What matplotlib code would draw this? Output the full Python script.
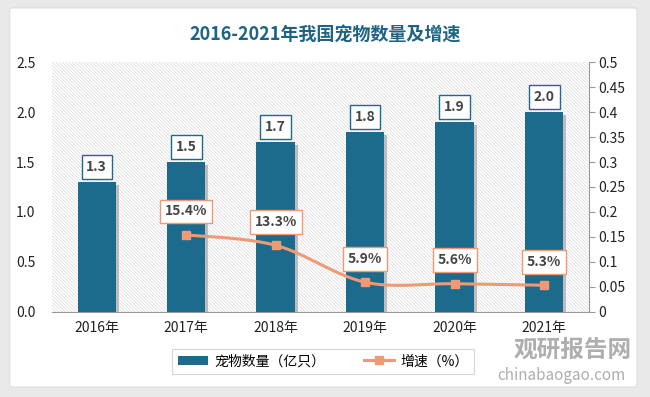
import matplotlib.pyplot as plt
import numpy as np
from matplotlib.patches import FancyBboxPatch
import matplotlib.patheffects as pe

plt.rcParams['font.family'] = ['Noto Sans CJK SC', 'DejaVu Sans']
plt.rcParams['hatch.color'] = '#d9d9d9'
plt.rcParams['hatch.linewidth'] = 0.5

years = ['2016年', '2017年', '2018年', '2019年', '2020年', '2021年']
pets = [1.3, 1.5, 1.7, 1.8, 1.9, 2.0]
growth_years = [1, 2, 3, 4, 5]
growth = [0.154, 0.133, 0.059, 0.056, 0.053]
growth_labels = ['15.4%', '13.3%', '5.9%', '5.6%', '5.3%']

teal = '#1c6a8c'
salmon = '#ef9a74'

fig = plt.figure(figsize=(6.5, 3.97), dpi=100, facecolor='#e9e9e9')
# white card behind everything
card = FancyBboxPatch((0.015, 0.025), 0.965, 0.955, boxstyle='round,pad=0,rounding_size=0.005',
                      transform=fig.transFigure, facecolor='white', edgecolor='#dddddd', lw=0.8, zorder=-10)
fig.patches.append(card)

ax = fig.add_axes([0.08, 0.215, 0.826, 0.628])
ax.set_zorder(1)
ax.set_facecolor('white')
ax.patch.set_hatch('\\' * 10)
ax.patch.set_edgecolor('#d9d9d9')
ax.patch.set_linewidth(0)

x = np.arange(len(years))
bars = ax.bar(x, pets, width=0.43, color=teal, zorder=3,
              path_effects=[pe.SimplePatchShadow(offset=(2, -2), shadow_rgbFace='#888888', alpha=0.5), pe.Normal()])
ax.set_ylim(0, 2.5)
ax.set_xlim(-0.5, 5.5)
ax.set_yticks(np.arange(0, 2.51, 0.5))
ax.set_yticklabels(['%.1f' % v for v in np.arange(0, 2.51, 0.5)])
ax.set_xticks(x)
ax.set_xticklabels(years)
ax.tick_params(axis='y', length=0, labelsize=10, colors='#222222', pad=12)
ax.tick_params(axis='x', length=0, labelsize=10, colors='#222222', pad=7)
for s in ['top', 'left', 'right']:
    ax.spines[s].set_visible(False)
ax.spines['bottom'].set_color('#999999')

for xi, v in zip(x, pets):
    ax.text(xi, v + 0.15, '%.1f' % v, ha='center', va='center', fontsize=10, fontweight='bold',
            color='#444444', zorder=6,
            bbox=dict(boxstyle='square,pad=0.35', fc='white', ec=teal, lw=1))

ax2 = ax.twinx()
# smoothed line through the points (catmull-rom)
xs = np.array(growth_years, dtype=float)
ys = np.array(growth)
tt = np.linspace(0, 1, 20)
px, py = [], []
pts_x = np.concatenate([[xs[0]], xs, [xs[-1]]])
pts_y = np.concatenate([[ys[0]], ys, [ys[-1]]])
for i in range(1, len(pts_x) - 2):
    p0, p1, p2, p3 = [np.array([pts_x[j], pts_y[j]]) for j in range(i - 1, i + 3)]
    for t in tt:
        c = 0.5 * ((2 * p1) + (-p0 + p2) * t + (2 * p0 - 5 * p1 + 4 * p2 - p3) * t ** 2
                   + (-p0 + 3 * p1 - 3 * p2 + p3) * t ** 3)
        px.append(c[0]); py.append(c[1])
ax2.plot(px, py, color=salmon, lw=2.2, zorder=4)
ax2.plot(xs, ys, 's', color=salmon, ms=6, zorder=5)
ax2.set_ylim(0, 0.5)
ax2.set_yticks(np.arange(0, 0.51, 0.05))
ax2.set_yticklabels(['0', '0.05', '0.1', '0.15', '0.2', '0.25', '0.3', '0.35', '0.4', '0.45', '0.5'])
ax2.tick_params(axis='y', direction='out', length=4, color='#999999', labelsize=10, labelcolor='#222222', pad=3)
for s in ['top', 'left', 'bottom']:
    ax2.spines[s].set_visible(False)
ax2.spines['right'].set_color('#999999')
for xi, v, lab in zip(xs, ys, growth_labels):
    ax2.text(xi, v + 0.047, lab, ha='center', va='center', fontsize=10, fontweight='bold',
             color='#444444', zorder=6,
             bbox=dict(boxstyle='square,pad=0.35', fc='white', ec=salmon, lw=1))

fig.text(0.5, 0.912, '2016-2021年我国宠物数量及增速', ha='center', va='center', fontsize=13,
         fontweight='bold', color='#1d6384')

h1 = plt.Rectangle((0, 0), 1, 1, fc=teal)
h2, = ax2.plot([], [], '-s', color=salmon, lw=2.2, ms=6)
leg = fig.legend([h1, h2], ['宠物数量（亿只）', '增速（%）'], loc='center', bbox_to_anchor=(0.497, 0.09),
                 ncol=2, frameon=True, fancybox=False, edgecolor='#cccccc', fontsize=10,
                 handlelength=2.2, columnspacing=2.8, borderpad=0.4, handletextpad=0.4)
leg.get_frame().set_linewidth(0.8)

fig.text(0.79, 0.12, '观研报告网', fontsize=17, fontweight='bold', color='#9a9a9a', ha='left', va='center', alpha=0.8)
fig.text(0.765, 0.055, 'chinabaogao.com', fontsize=11, color='#9a9a9a', ha='left', va='center', alpha=0.8)

fig.savefig('out.png', dpi=100, facecolor=fig.get_facecolor())
